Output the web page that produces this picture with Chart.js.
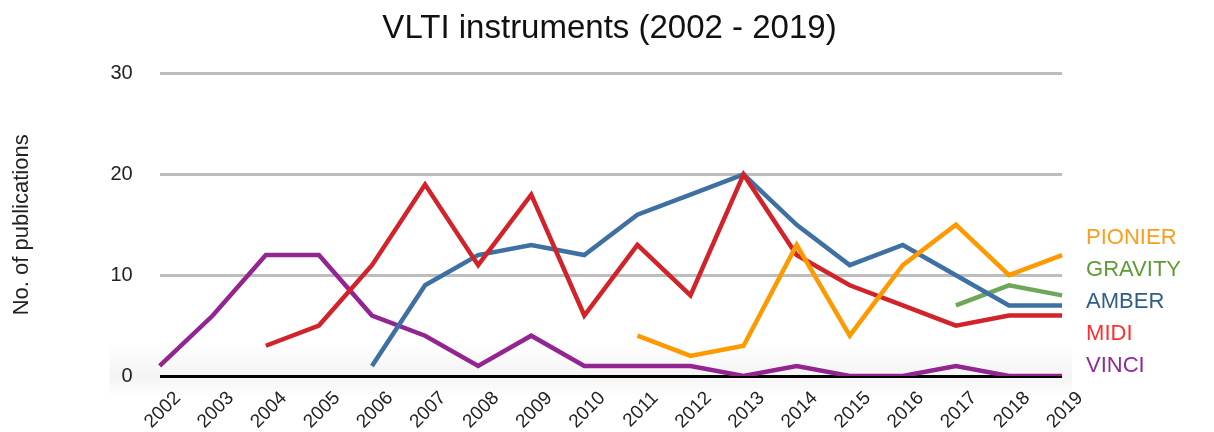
<!DOCTYPE html>
<html>
<head>
<meta charset="utf-8">
<script src="https://cdn.jsdelivr.net/npm/chart.js@4"></script>
<style>
  html, body { margin: 0; padding: 0; background: #fff; }
  #wrap { width: 1214px; height: 432px; }
</style>
</head>
<body>
<div id="wrap"><canvas id="vlti"></canvas></div>
<script>
const years = ["2002", "2003", "2004", "2005", "2006", "2007", "2008", "2009", "2010",
  "2011", "2012", "2013", "2014", "2015", "2016", "2017", "2018", "2019"];

const pionier = [null, null, null, null, null, null, null, null, null, 4, 2, 3, 13, 4, 11, 15, 10, 12];
const gravity = [null, null, null, null, null, null, null, null, null, null, null, null, null, null, null, 7, 9, 8];
const amber = [null, null, null, null, 1, 9, 12, 13, 12, 16, 18, 20, 15, 11, 13, 10, 7, 7];
const midi = [null, null, 3, 5, 11, 19, 11, 18, 6, 13, 8, 20, 12, 9, 7, 5, 6, 6];
const vinci = [1, 6, 12, 12, 6, 4, 1, 4, 1, 1, 1, 0, 1, 0, 0, 1, 0, 0];

const yTicks = [0, 10, 20, 30];

const FONT = "'Liberation Sans', 'Helvetica Neue', Arial, sans-serif";

function series(label, data, line, text, order) {
  return {
    label,
    data,
    borderColor: line,
    backgroundColor: line,
    textColor: text,
    borderWidth: 4.5,
    pointRadius: 0,
    pointHoverRadius: 0,
    tension: 0,
    spanGaps: false,
    order
  };
}

// small position tweaks: legend column sits low, title sits a bit right of centre
const nudge = {
  id: "nudge",
  afterLayout(chart) {
    const lg = chart.legend;
    if (lg) {
      lg.top += 11;
      lg.bottom += 11;
      lg.left += 3;
      lg.right += 3;
    }
    const tb = chart.titleBlock;
    if (tb) {
      tb.left += 11;
      tb.right += 11;
    }
  }
};

// faint grey glow around the zero line
const baseShade = {
  id: "baseShade",
  beforeDatasetsDraw(chart) {
    const { ctx, chartArea } = chart;
    const y0 = chart.scales.y.getPixelForValue(0);
    const x1 = chartArea.left - 50;
    const x2 = chartArea.right + 10;
    ctx.save();
    let g = ctx.createLinearGradient(0, y0 - 34, 0, y0);
    g.addColorStop(0, "rgba(0,0,0,0)");
    g.addColorStop(1, "rgba(0,0,0,0.045)");
    ctx.fillStyle = g;
    ctx.fillRect(x1, y0 - 34, x2 - x1, 34);
    g = ctx.createLinearGradient(0, y0, 0, y0 + 22);
    g.addColorStop(0, "rgba(0,0,0,0.045)");
    g.addColorStop(1, "rgba(0,0,0,0)");
    ctx.fillStyle = g;
    ctx.fillRect(x1, y0, x2 - x1, 22);
    ctx.restore();
  }
};

new Chart(document.getElementById("vlti"), {
  type: "line",
  data: {
    labels: years,
    datasets: [
      series("PIONIER", pionier, "#ff9900", "#ff9c1c", 1),
      series("GRAVITY", gravity, "#6ea75a", "#5f9b35", 4),
      series("AMBER", amber, "#3e70a2", "#2e5f88", 3),
      series("MIDI", midi, "#d2232a", "#ff2d2d", 2),
      series("VINCI", vinci, "#922590", "#8e2d97", 5)
    ]
  },
  options: {
    responsive: true,
    maintainAspectRatio: false,
    animation: false,
    layout: { padding: { left: 9, right: 26, top: 4, bottom: 0 } },
    scales: {
      x: {
        offset: false,
        grid: { display: false, drawTicks: false },
        border: { display: false },
        afterFit(axis) {
          // the year labels run off the bottom edge in the original
          axis.height = 56;
        },
        ticks: {
          color: "#222",
          font: { family: FONT, size: 19 },
          minRotation: 45,
          maxRotation: 45,
          padding: 11,
          labelOffset: 18,
          autoSkip: false
        }
      },
      y: {
        min: 0,
        max: 30,
        afterBuildTicks(axis) {
          axis.ticks = yTicks.map((v) => ({ value: v }));
        },
        border: { display: false },
        grid: {
          drawTicks: false,
          lineWidth: 3,
          color: (ctx) => (ctx.tick && ctx.tick.value === 0 ? "#000" : "#bdbdbd")
        },
        ticks: {
          color: "#222",
          font: { family: FONT, size: 20 },
          padding: 27
        },
        title: {
          display: true,
          text: "No. of publications",
          color: "#222",
          font: { family: FONT, size: 22 },
          padding: { top: 0, bottom: 48 }
        }
      }
    },
    plugins: {
      title: {
        display: true,
        text: "VLTI instruments (2002 - 2019)",
        color: "#111",
        font: { family: FONT, size: 33, weight: "normal" },
        padding: { top: 5, bottom: 25 }
      },
      legend: {
        position: "right",
        align: "end",
        fullSize: false,
        labels: {
          boxWidth: 0,
          padding: 10,
          font: { family: FONT, size: 22 },
          generateLabels(chart) {
            return chart.data.datasets.map((ds, i) => ({
              text: ds.label,
              fontColor: ds.textColor,
              fillStyle: "transparent",
              strokeStyle: "transparent",
              lineWidth: 0,
              datasetIndex: i
            }));
          }
        }
      },
      tooltip: { enabled: false }
    }
  },
  plugins: [nudge, baseShade]
});
</script>
</body>
</html>
